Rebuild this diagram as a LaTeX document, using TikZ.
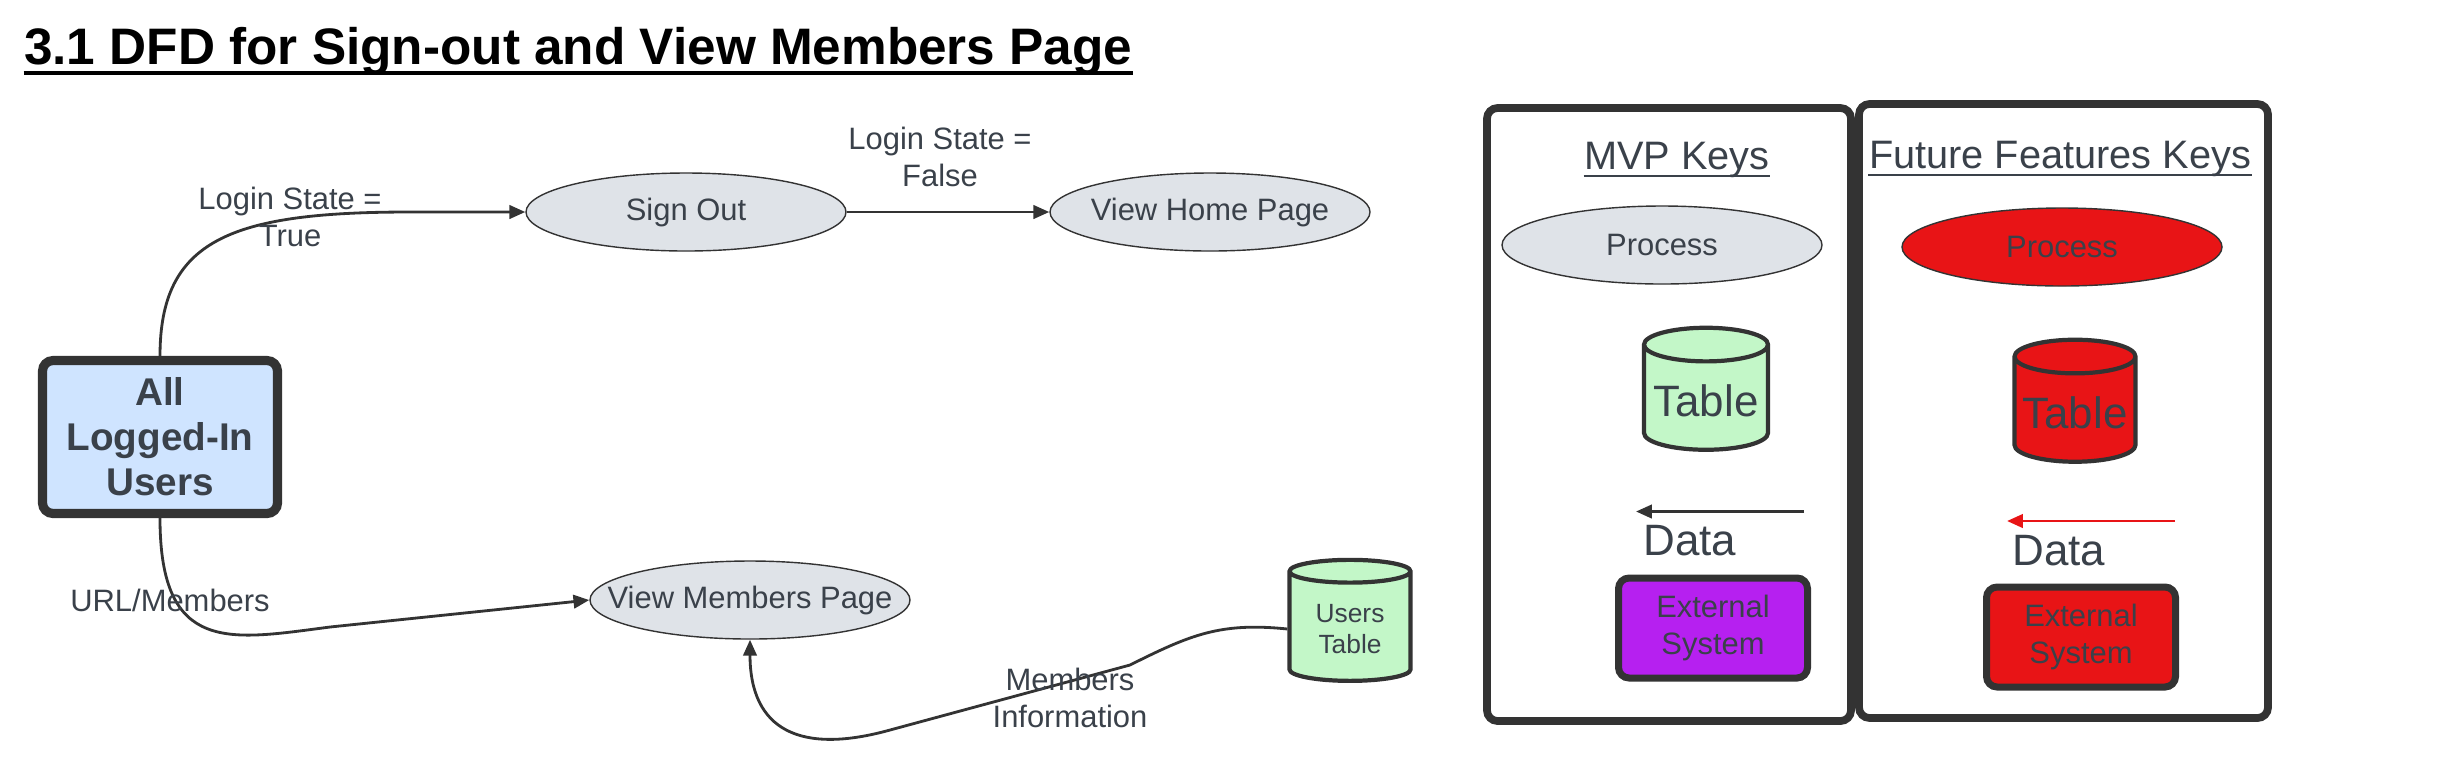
\documentclass[tikz,border=0pt]{standalone}
\usepackage{fontspec}
\setmainfont{Liberation Sans}
\usepackage{tikz}
\usetikzlibrary{arrows.meta,calc,positioning,shapes.geometric}
\definecolor{procgray}{HTML}{DFE3E8}
\definecolor{userblue}{HTML}{CFE4FF}
\definecolor{tablegreen}{HTML}{C3F7C8}
\definecolor{extpurple}{HTML}{B620F0}
\definecolor{futurered}{HTML}{E81416}
\definecolor{linegray}{HTML}{333333}
\definecolor{textgray}{HTML}{3A414A}
\tikzset{
  process/.style={draw=linegray, line width=0.4pt, ellipse, fill=procgray, minimum width=3.2cm, minimum height=0.78cm, inner ysep=0pt, inner xsep=-5mm, text=textgray, font=\fontsize{8.8}{10.7}\selectfont},
  entity/.style={draw=linegray, line width=2.6pt, rounded corners=3pt, fill=userblue, minimum width=2.35cm, minimum height=1.53cm, align=center, text=textgray, font=\bfseries\fontsize{11}{12.8}\selectfont},
  extsys/.style={draw=linegray, line width=2pt, rounded corners=3pt, minimum width=1.89cm, minimum height=1.0cm, align=center, text=textgray, font=\fontsize{8.8}{10.7}\selectfont},
  store/.style={draw=linegray, line width=1.2pt, cylinder, shape border rotate=90, aspect=0.3, inner sep=1pt, align=center, text=textgray},
  keypanel/.style={draw=linegray, line width=2.2pt, rounded corners=3pt},
  heading/.style={anchor=base, inner sep=0pt, text=textgray, font=\fontsize{11.3}{13}\selectfont},
  flowlabel/.style={align=center, inner sep=0pt, text=textgray, font=\fontsize{8.8}{10.7}\selectfont},
  bigtext/.style={inner sep=0pt, text=textgray, font=\fontsize{12.5}{14}\selectfont},
  flow/.style={-{Triangle[length=4.5pt,width=3.8pt]}, line width=0.8pt, draw=linegray},
  ulined/.style={line width=0.7pt, draw=textgray}
}
\begin{document}
\begin{tikzpicture}
  \useasboundingbox (0,0) rectangle (24.6,-7.64);

  % title
  \node[anchor=base west, inner sep=0pt, font=\bfseries\fontsize{14.6}{16}\selectfont] (title) at (0.235,-0.645) {3.1 DFD for Sign-out and View Members Page};
  \draw[line width=1.1pt] ([yshift=-2.3pt]title.base west) -- ([yshift=-2.3pt]title.base east);

  % main flow
  \node[entity] (users) at (1.60,-4.37) {All\\Logged-In\\Users};
  \node[process] (signout) at (6.86,-2.12) {Sign Out};
  \node[process] (viewhome) at (12.10,-2.12) {View Home Page};
  \node[process] (vmembers) at (7.50,-6.00) {View Members Page};
  \node[store, minimum width=1.21cm, minimum height=1.21cm, fill=tablegreen, font=\fontsize{7.5}{8.9}\selectfont] (userstable) at (13.50,-6.29) {Users\\Table};

  \draw[flow] (users.north) .. controls (1.60,-2.4) and (2.3,-2.12) .. (4.1,-2.12) -- (signout.west);
  \draw[flow] (signout.east) -- (viewhome.west);
  \draw[flow] (users.south) .. controls (1.60,-6.55) and (2.3,-6.4) .. (3.3,-6.27) -- (vmembers.west);
  \draw[flow] (userstable.west) .. controls (12.2,-6.22) and (11.9,-6.35) .. (11.3,-6.65) -- (8.9,-7.30) .. controls (8.0,-7.55) and (7.5,-7.3) .. (vmembers.south);

  \node[flowlabel] (lstrue) at (2.90,-2.17) {Login State =\\True};
  \node[flowlabel] (lsfalse) at (9.40,-1.57) {Login State =\\False};
  \node[flowlabel] (urlmem) at (1.70,-6.00) {URL/Members};
  \node[flowlabel] (meminfo) at (10.70,-6.98) {Members\\Information};

  % keys
  \node[keypanel, minimum width=3.64cm, minimum height=6.13cm] (mvpkey) at (16.69,-4.145) {};
  \node[keypanel, minimum width=4.09cm, minimum height=6.14cm] (futurekey) at (20.635,-4.11) {};

  \node[heading] (mvptitle) at (16.77,-1.69) {MVP Keys};
  \draw[ulined] ([yshift=-2pt]mvptitle.base west) -- ([yshift=-2pt]mvptitle.base east);
  \node[heading] (futtitle) at (20.60,-1.68) {Future Features Keys};
  \draw[ulined] ([yshift=-2pt]futtitle.base west) -- ([yshift=-2pt]futtitle.base east);

  \node[process] (mvpproc) at (16.62,-2.45) {Process};
  \node[process, fill=futurered] (futproc) at (20.62,-2.47) {Process};

  \node[store, minimum width=1.24cm, minimum height=1.22cm, fill=tablegreen, font=\fontsize{12.5}{14}\selectfont] (mvptable) at (17.06,-4.01) {Table};
  \node[store, minimum width=1.21cm, minimum height=1.22cm, fill=futurered, font=\fontsize{12.5}{14}\selectfont] (futtable) at (20.75,-4.13) {Table};

  \coordinate (mvpdataR) at (18.04,-5.115);
  \coordinate (mvpdataL) at (16.36,-5.115);
  \draw[flow] (mvpdataR) -- (mvpdataL);
  \coordinate (futdataR) at (21.75,-5.21);
  \coordinate (futdataL) at (20.07,-5.21);
  \draw[flow, draw=futurered] (futdataR) -- (futdataL);
  \node[bigtext] (mvpdata) at (16.90,-5.41) {Data};
  \node[bigtext] (futdata) at (20.59,-5.51) {Data};

  \node[extsys, fill=extpurple] (mvpext) at (17.13,-6.28) {External\\System};
  \node[extsys, fill=futurered] (futext) at (20.81,-6.37) {External\\System};
\end{tikzpicture}
\end{document}
